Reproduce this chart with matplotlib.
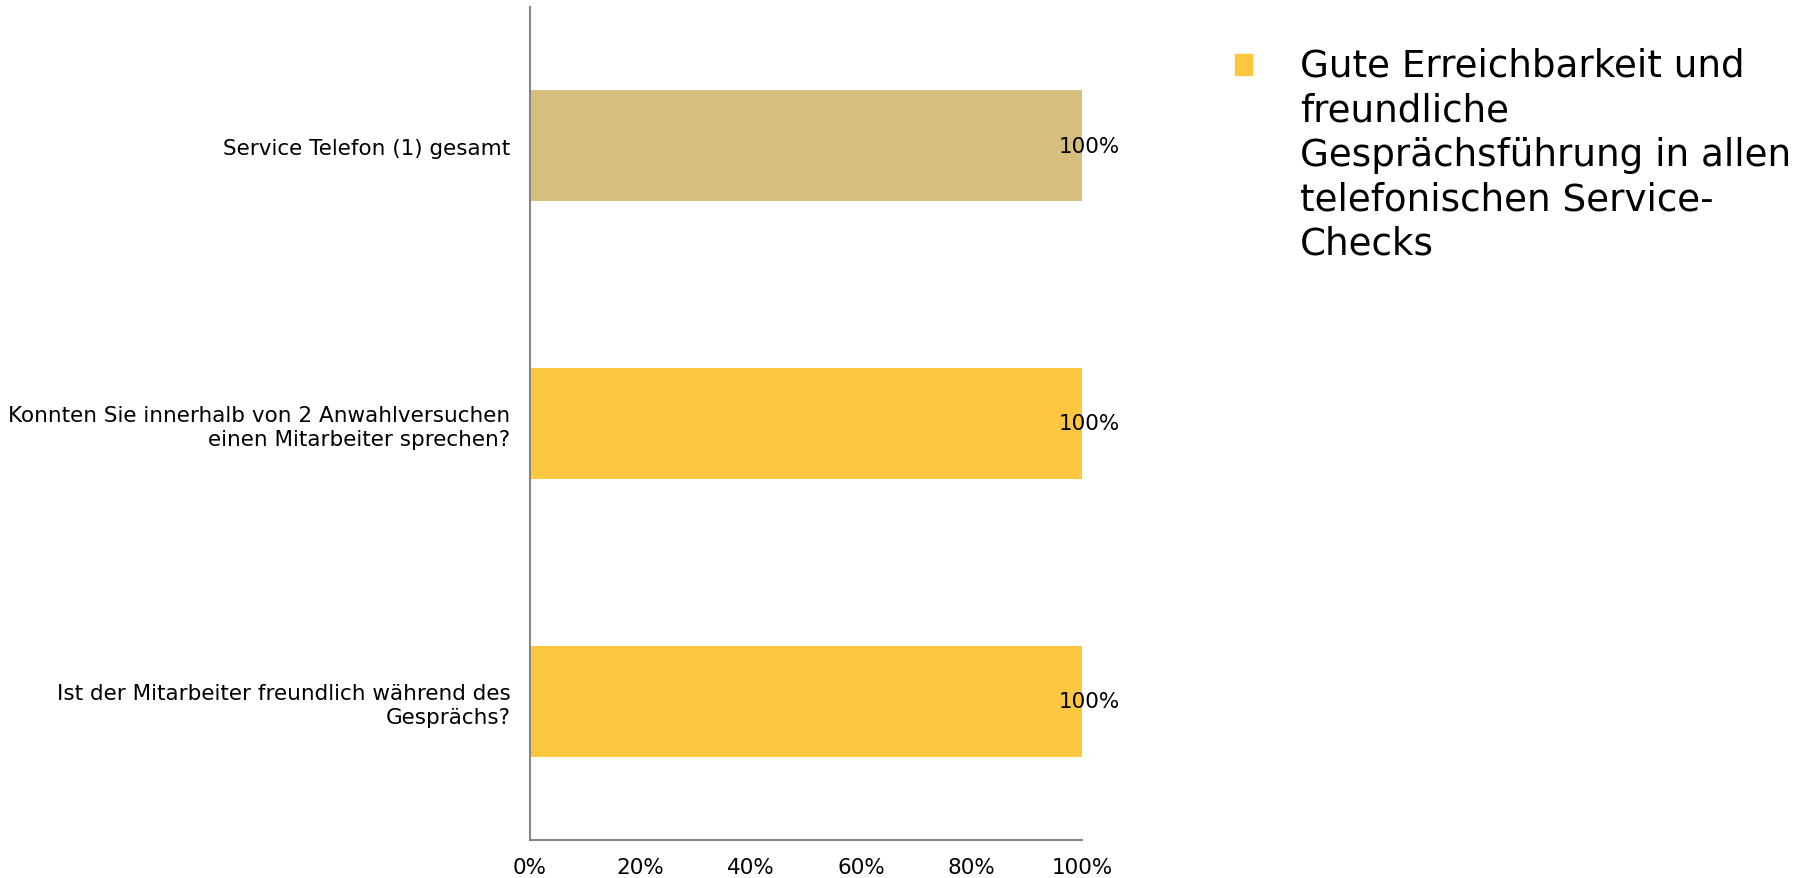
import matplotlib
matplotlib.use("Agg")
import matplotlib.pyplot as plt
from matplotlib.patches import Rectangle

categories = [
    "Ist der Mitarbeiter freundlich während des\nGesprächs?",
    "Konnten Sie innerhalb von 2 Anwahlversuchen\neinen Mitarbeiter sprechen?",
    "Service Telefon (1) gesamt",
]
values = [100, 100, 100]
bar_colors = ["#FFC640", "#FFC640", "#D6BE7E"]
xticks = [0, 20, 40, 60, 80, 100]
xtick_labels = ["0%", "20%", "40%", "60%", "80%", "100%"]
legend_label = "Gute Erreichbarkeit und\nfreundliche\nGesprächsführung in allen\ntelefonischen Service-\nChecks"

plt.rcParams['font.family'] = ['DejaVu Sans']
fig = plt.figure(figsize=(18.11, 8.79), dpi=100)
ax = fig.add_axes([530/1811, 1-841/879, (1082-530)/1811, (841-8)/879])

FS = 15.5
ypos = list(range(len(categories)))
ax.barh(ypos, values, height=0.4, color=bar_colors)
for y, v in zip(ypos, values):
    ax.annotate(f"{v}%", (v, y), xytext=(5, 0), textcoords="offset points",
                ha="center", va="center", fontsize=FS, color="black")

ax.set_xlim(0, 100)
ax.set_ylim(-0.5, 2.5)
ax.set_yticks(ypos)
ax.set_yticklabels(categories, fontsize=FS, ha="right", linespacing=1.25)
ax.set_xticks(xticks)
ax.set_xticklabels(xtick_labels, fontsize=FS)
ax.tick_params(axis="both", length=0)
ax.tick_params(axis="y", pad=14)
ax.tick_params(axis="x", pad=12)
for s in ["top", "right"]:
    ax.spines[s].set_visible(False)
for s in ["left", "bottom"]:
    ax.spines[s].set_color("#868686")
    ax.spines[s].set_linewidth(1.5)

fig.patches.append(Rectangle((1235/1811, 1-76/879), 17/1811, 21/879,
                             transform=fig.transFigure, color="#FFC640"))
fig.text(1300/1811, 1-47.5/879, legend_label, va="top", ha="left",
         fontsize=26.8, linespacing=1.26)

fig.savefig("out.png", dpi=100)
